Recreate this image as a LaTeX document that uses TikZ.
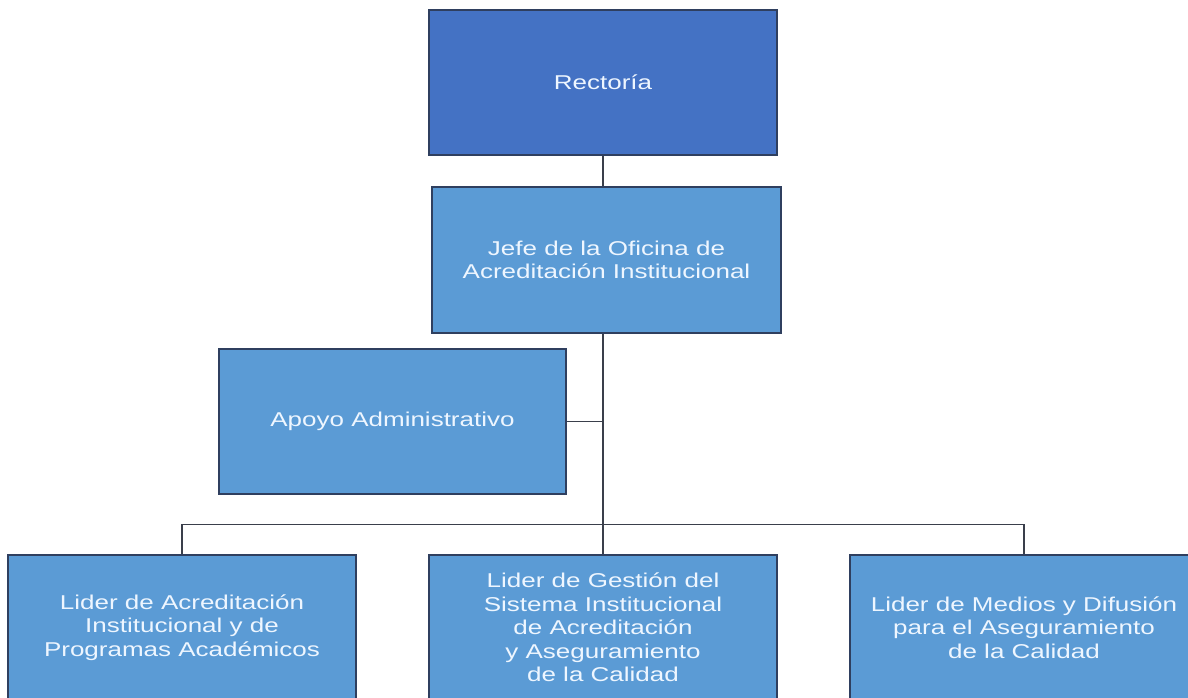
\documentclass[tikz,border=0pt]{standalone}
\usepackage{fontspec}
\setmainfont{Liberation Sans}[FakeStretch=1.3]
\definecolor{darkbox}{HTML}{4472C4}
\definecolor{lightbox}{HTML}{5B9BD5}
\definecolor{boxline}{HTML}{2F3F5F}
\definecolor{conn}{HTML}{3A3F4B}
\definecolor{txt}{HTML}{EEF6FF}
\tikzset{
  orgbox/.style={rectangle, draw=boxline, line width=1.2pt, fill=lightbox,
    minimum width=348pt, minimum height=145pt, inner sep=2pt,
    align=center, text=txt, font=\fontsize{20pt}{23.5pt}\selectfont},
  topbox/.style={orgbox, fill=darkbox},
  link/.style={draw=conn, line width=1.8pt}
}
\begin{document}
\begin{tikzpicture}[x=1pt, y=-1pt]
\clip (0,0) rectangle (1188,698);
\fill[white] (0,0) rectangle (1188,698);
\node[topbox] (rect) at (603,82.5) {Rectoría};
\node[orgbox, minimum width=349pt, minimum height=146pt] (jefe) at (606.5,260) {Jefe de la Oficina de\\Acreditación Institucional};
\node[orgbox, minimum width=347pt] (apoyo) at (392.5,421.5) {Apoyo Administrativo};
\node[orgbox] (left) at (182,627.5) {Lider de Acreditación\\Institucional y de\\Programas Académicos};
\node[orgbox] (mid) at (603,627.5) {Lider de Gestión del\\Sistema Institucional\\de Acreditación\\y Aseguramiento\\de la Calidad};
\node[orgbox] (right) at (1024,627.5) {Lider de Medios y Difusión\\para el Aseguramiento\\de la Calidad};
\draw[link] (rect.south) -- (rect.south |- jefe.north);
\draw[link] (mid.north) -- (mid.north |- jefe.south);
\draw[link] (apoyo.east) -- (apoyo.east -| mid.north);
\draw[link] (left.north) -- ++(0,-30) -| (right.north);
\end{tikzpicture}
\end{document}
